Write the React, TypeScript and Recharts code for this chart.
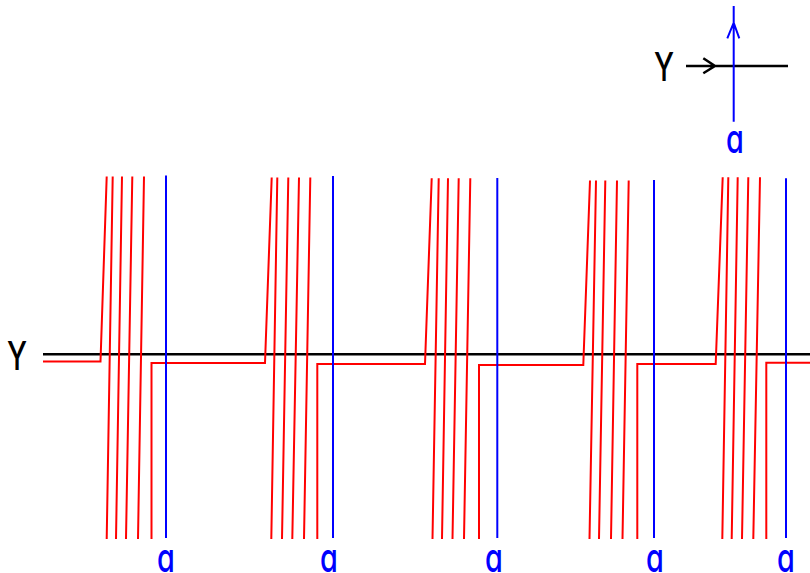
import React from "react";
import { ComposedChart, Line, Scatter, XAxis, YAxis } from "recharts";

// Diagram coordinates (data units, x: 0..810 left→right, y: 0..573 top→bottom)
const START_X = 43;
const END_X = 810;
const AXIS_Y = 354.3;
const BOTTOM_Y = 539;

// horizontal red level before each winding group (and after the last one)
const LEVELS = [361.5, 363, 364, 365, 364, 362.7];
// x where the red path leaves the horizontal and rises
const RISE_X = [100.5, 265, 425, 583.3, 715.7];
// top end of the rising stroke
const RISE_TOP_X = [106.7, 271.7, 431.7, 590, 722.7];
const TOP_Y = [176.5, 177.5, 178.3, 180.5, 177.3];
// slanted strokes: top x and bottom x
const SLANT_TOPS = [
  [112.7, 122, 132.3, 144],
  [277.3, 288.3, 299, 310.3],
  [438.7, 448, 458.7, 470.3],
  [596, 605.3, 617, 628.7],
  [728.3, 737.7, 748.3, 760],
];
const SLANT_BOTTOMS = [
  [106.7, 116, 126, 138],
  [271.3, 282, 292.3, 304],
  [432.5, 442, 452.5, 464],
  [589.5, 599, 611, 622.5],
  [722.3, 731.7, 742, 753.3],
];
// vertical return stroke of each group
const RETURN_X = [151.5, 317.3, 479, 637.3, 766.3];

// blue "a" lines
const BLUE_X = [166, 333, 497.3, 654, 786];
const BLUE_TOP = [175.5, 176, 178, 180, 178.3];
const BLUE_BOTTOM = 538;
const A_LABEL_X = [166, 329, 494, 655, 786];
const A_LABEL_Y = 557;

// legend (top right)
const LEG_H = { x1: 686, x2: 788, y: 66 };
const LEG_H_ARROW = [
  { x: 703.3, y: 58.3 },
  { x: 715, y: 66 },
  { x: 703.3, y: 73.3 },
];
const LEG_V = { x: 733.7, y1: 121.7, y2: 6 };
const LEG_V_ARROW = [
  { x: 727.3, y: 38.3 },
  { x: 733.7, y: 22.7 },
  { x: 739.3, y: 38.3 },
];

const BLACK_LABELS = [
  { x: 17, y: 355, t: "Y" },
  { x: 664, y: 66, t: "Y" },
];
const BLUE_LABELS = [
  ...A_LABEL_X.map((x) => ({ x, y: A_LABEL_Y, t: "a" })),
  { x: 735, y: 138, t: "a" },
];

type P = { x: number; y: number | null };

function buildRed(): P[] {
  const pts: P[] = [];
  const brk = (x: number) => pts.push({ x, y: null });
  pts.push({ x: START_X, y: LEVELS[0] });
  for (let g = 0; g < RISE_X.length; g++) {
    pts.push({ x: RISE_X[g], y: LEVELS[g] });
    pts.push({ x: RISE_TOP_X[g], y: TOP_Y[g] });
    brk(RISE_TOP_X[g]);
    for (let i = 0; i < SLANT_TOPS[g].length; i++) {
      pts.push({ x: SLANT_TOPS[g][i], y: TOP_Y[g] });
      pts.push({ x: SLANT_BOTTOMS[g][i], y: BOTTOM_Y });
      brk(SLANT_BOTTOMS[g][i]);
    }
    pts.push({ x: RETURN_X[g], y: BOTTOM_Y });
    pts.push({ x: RETURN_X[g], y: LEVELS[g + 1] });
  }
  pts.push({ x: END_X, y: LEVELS[LEVELS.length - 1] });
  return pts;
}

function buildBlue(): P[] {
  const pts: P[] = [];
  BLUE_X.forEach((x, i) => {
    pts.push({ x, y: BLUE_TOP[i] });
    pts.push({ x, y: BLUE_BOTTOM });
    pts.push({ x, y: null });
  });
  pts.push({ x: LEG_V.x, y: LEG_V.y1 });
  pts.push({ x: LEG_V.x, y: LEG_V.y2 });
  pts.push({ x: LEG_V.x, y: null });
  LEG_V_ARROW.forEach((p) => pts.push(p));
  return pts;
}

function buildBlack(): P[] {
  const pts: P[] = [];
  pts.push({ x: START_X, y: AXIS_Y });
  pts.push({ x: END_X, y: AXIS_Y });
  pts.push({ x: END_X, y: null });
  pts.push({ x: LEG_H.x1, y: LEG_H.y });
  pts.push({ x: LEG_H.x2, y: LEG_H.y });
  pts.push({ x: LEG_H.x2, y: null });
  LEG_H_ARROW.forEach((p) => pts.push(p));
  return pts;
}

const makeLabel = (color: string) => (props: any) => {
  const { cx, cy, payload } = props;
  if (cx == null || cy == null) return null;
  return (
    <text
      transform={`translate(${cx},${cy}) scale(0.72,1)`}
      x={0}
      y={0}
      textAnchor="middle"
      dominantBaseline="central"
      fontFamily="Inter, 'DejaVu Sans', sans-serif"
      fontSize={40}
      fontWeight={500}
      style={{ fontFeatureSettings: "'cv11'" }}
      fill={color}
    >
      {payload.t}
    </text>
  );
};

export default function App() {
  const red = buildRed();
  const blue = buildBlue();
  const black = buildBlack();
  return (
    <div style={{ position: "absolute", left: 0, top: 0, width: 810, height: 573, background: "#fff" }}>
      <ComposedChart width={810} height={573} margin={{ top: 0, right: 0, bottom: 0, left: 0 }}>
        <XAxis type="number" dataKey="x" domain={[0, 810]} allowDataOverflow hide />
        <YAxis type="number" dataKey="y" domain={[0, 573]} reversed allowDataOverflow hide />
        <Line data={black} dataKey="y" type="linear" stroke="#000000" strokeWidth={2.5} dot={false} activeDot={false} connectNulls={false} isAnimationActive={false} />
        <Line data={red} dataKey="y" type="linear" stroke="#ff0000" strokeWidth={2} dot={false} activeDot={false} connectNulls={false} isAnimationActive={false} />
        <Line data={blue} dataKey="y" type="linear" stroke="#0000ff" strokeWidth={2} dot={false} activeDot={false} connectNulls={false} isAnimationActive={false} />
        <Scatter data={BLACK_LABELS} dataKey="y" shape={makeLabel("#000000")} isAnimationActive={false} />
        <Scatter data={BLUE_LABELS} dataKey="y" shape={makeLabel("#0000ff")} isAnimationActive={false} />
      </ComposedChart>
    </div>
  );
}
